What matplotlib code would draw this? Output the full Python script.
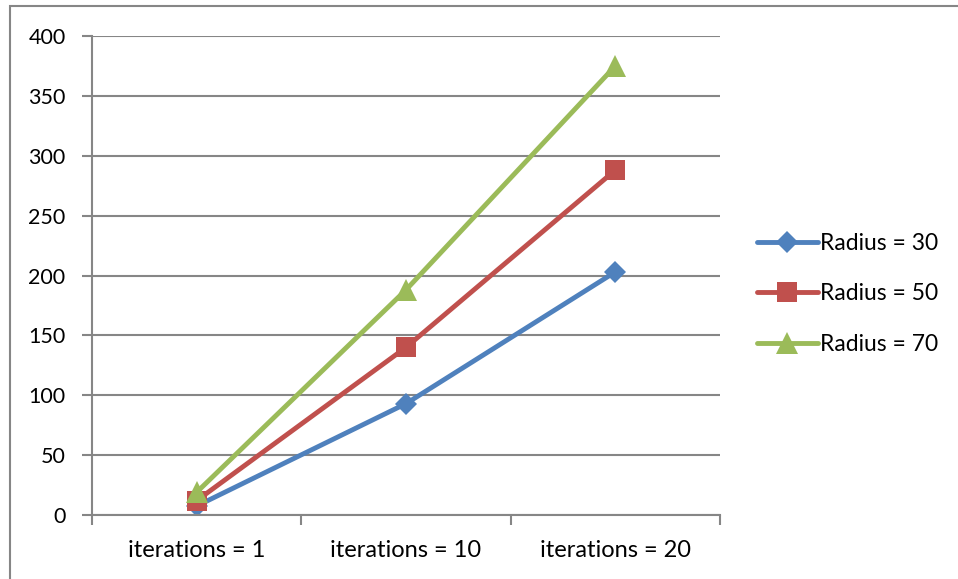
import matplotlib
matplotlib.use("Agg")
import matplotlib.pyplot as plt
from matplotlib.patches import Rectangle

categories = ['iterations = 1', 'iterations = 10', 'iterations = 20']
radius_30 = [7.5, 93, 203]
radius_50 = [12, 140, 288]
radius_70 = [19, 188, 375]
yticks = [0, 50, 100, 150, 200, 250, 300, 350, 400]

GRID = '#868686'
plt.rcParams['font.family'] = ['Lato', 'DejaVu Sans']

fig = plt.figure(figsize=(9.58, 5.79), dpi=100)
ax = fig.add_axes([92 / 958, 1 - 515 / 579, (720 - 92) / 958, (515 - 36) / 579])

# outer chart frame, only the top and left edges fall inside the image
fig.patches.append(Rectangle((10 / 958, -0.1), 1.2, 1 - 6 / 579 + 0.1,
                             transform=fig.transFigure, fill=False,
                             edgecolor=GRID, linewidth=1.5))

x = list(range(len(categories)))
series = [
    (radius_30, 'Radius = 30', '#4F81BD', 'D', 11),
    (radius_50, 'Radius = 50', '#C0504D', 's', 14),
    (radius_70, 'Radius = 70', '#9BBB59', '^', 16),
]
for vals, label, color, marker, ms in series:
    ax.plot(x, vals, color=color, linewidth=3.5, marker=marker, markersize=ms,
            markeredgewidth=0, label=label, solid_capstyle='round')

ax.set_xlim(-0.5, 2.5)
ax.set_ylim(0, 400)
ax.set_yticks(yticks)
ax.set_xticks(x)
ax.set_xticklabels(categories)
ax.set_xticks([-0.5, 0.5, 1.5, 2.5], minor=True)
ax.tick_params(axis='x', which='major', length=0, pad=18, labelsize=17)
ax.tick_params(axis='x', which='minor', length=7, width=1.5, color=GRID)
ax.tick_params(axis='y', length=7, width=1.5, color=GRID, pad=12, labelsize=15.5)

ax.grid(axis='y', color=GRID, linewidth=1.5)
ax.set_axisbelow(True)
for side in ['top', 'right']:
    ax.spines[side].set_visible(False)
for side in ['left', 'bottom']:
    ax.spines[side].set_color(GRID)
    ax.spines[side].set_linewidth(1.5)

ax.legend(loc='center left', bbox_to_anchor=(757 / 958, 1 - 294 / 579),
          bbox_transform=fig.transFigure, frameon=False, fontsize=16.5,
          handlelength=2.65, handletextpad=0.1, labelspacing=1.3,
          borderaxespad=0, borderpad=0)

fig.savefig('out.png', dpi=100)
